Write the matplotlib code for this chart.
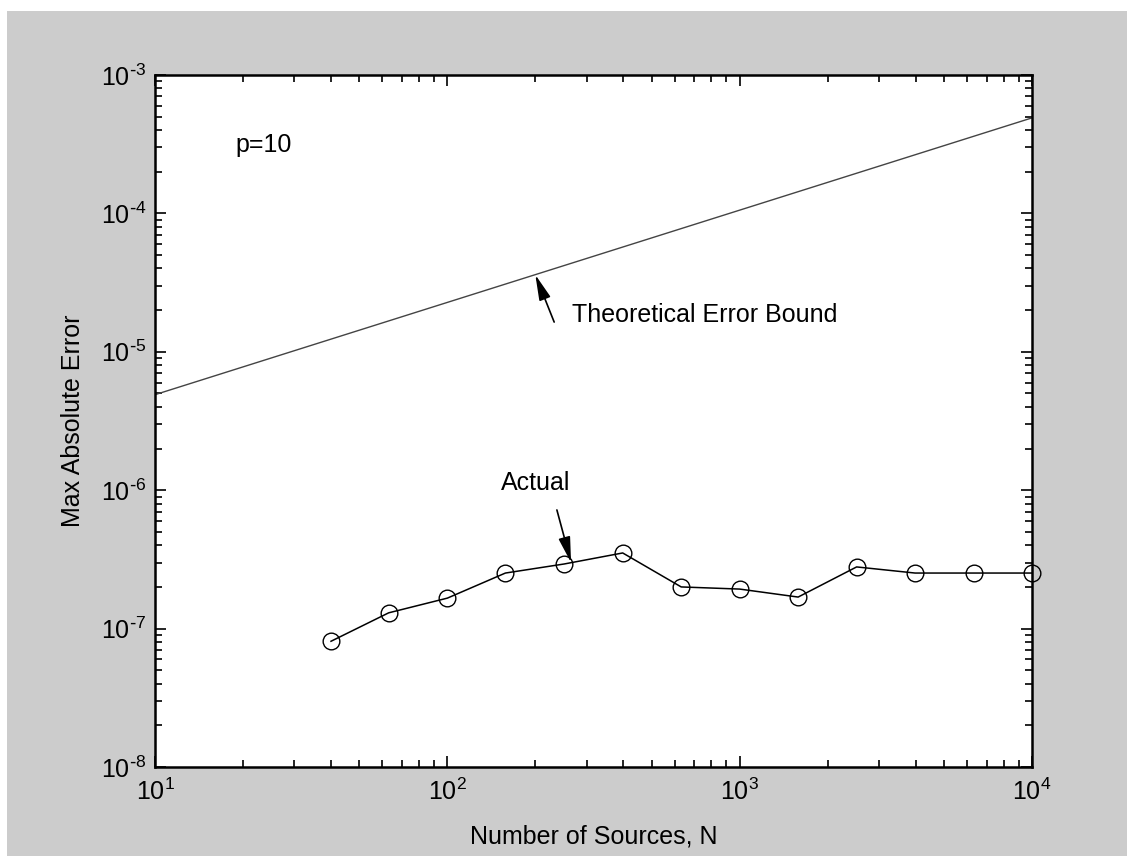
import numpy as np
import matplotlib
matplotlib.use('Agg')
import matplotlib.pyplot as plt
from matplotlib.patches import Rectangle
from matplotlib.ticker import FuncFormatter

# 数据：源数量与最大绝对误差
n_sources = [40, 63, 100, 158, 251, 398, 631, 1000, 1585, 2512, 3981, 6310, 10000]
actual_err = [8.1e-8, 1.30e-7, 1.66e-7, 2.52e-7, 2.93e-7, 3.52e-7, 2.0e-7,
              1.93e-7, 1.69e-7, 2.79e-7, 2.52e-7, 2.52e-7, 2.52e-7]
bound_n = [10, 10000]
bound_err = [4.9e-6, 4.9e-4]

plt.rcParams['font.family'] = ['Liberation Sans', 'DejaVu Sans']
plt.rcParams['mathtext.default'] = 'regular'
plt.rcParams['axes.unicode_minus'] = False
plt.rcParams['font.size'] = 18

fig = plt.figure(figsize=(11.27, 8.56), dpi=100, facecolor='white')
# 灰色背景（左上留白边）
fig.patches.append(Rectangle((7 / 1127, 0), 1, 1 - 11 / 856, transform=fig.transFigure,
                             facecolor='#cccccc', edgecolor='none', zorder=-10))
ax = fig.add_axes([155 / 1127, 1 - 767 / 856, 877 / 1127, 692 / 856])
ax.set_facecolor('white')

ax.plot(bound_n, bound_err, color='#444444', linewidth=1)
ax.plot(n_sources, actual_err, '-o', color='black', linewidth=1.1, clip_on=False,
        markersize=12, markerfacecolor='none', markeredgewidth=1.0, zorder=5)

ax.set_xscale('log')
ax.set_yscale('log')
ax.set_xlim(10, 1e4)
ax.set_ylim(1e-8, 1e-3)


# 指数用普通连字符，和原图一致
def pow_fmt(v, pos):
    k = int(round(np.log10(v)))
    if k < 0:
        return r'$10^{\text{-}%d}$' % (-k)
    return r'$10^{%d}$' % k


ax.xaxis.set_major_formatter(FuncFormatter(pow_fmt))
ax.yaxis.set_major_formatter(FuncFormatter(pow_fmt))

ax.tick_params(which='both', direction='in', top=True, right=True, width=1.2, colors='black')
ax.tick_params(which='major', length=8)
ax.tick_params(which='minor', length=5)
ax.tick_params(axis='x', which='major', pad=8, labelsize=18)
ax.tick_params(axis='y', which='major', pad=6, labelsize=18)
for s in ax.spines.values():
    s.set_linewidth(1.8)

ax.set_xlabel('Number of Sources, N', fontsize=18)
ax.set_ylabel('Max Absolute Error', fontsize=18)
ax.xaxis.set_label_coords(0.5, -0.083)
ax.yaxis.set_label_coords(-0.08, 0.5)

# 注释文字与箭头
arrow = dict(arrowstyle='-|>,head_length=1.3,head_width=0.3', color='black',
             lw=1.2, mutation_scale=12, shrinkA=0, shrinkB=0)
ax.text(18.8, 3.12e-4, 'p=10', fontsize=18, va='center', ha='left')
ax.text(267, 1.85e-5, 'Theoretical Error Bound', fontsize=18, va='center', ha='left')
ax.annotate('', xy=(200, 3.6e-5), xytext=(232, 1.64e-5), arrowprops=arrow)
ax.text(200, 1.13e-6, 'Actual', fontsize=18, va='center', ha='center')
ax.annotate('', xy=(265, 3.0e-7), xytext=(237, 7.2e-7), arrowprops=arrow)

plt.savefig('out.png', dpi=100, facecolor=fig.get_facecolor())
